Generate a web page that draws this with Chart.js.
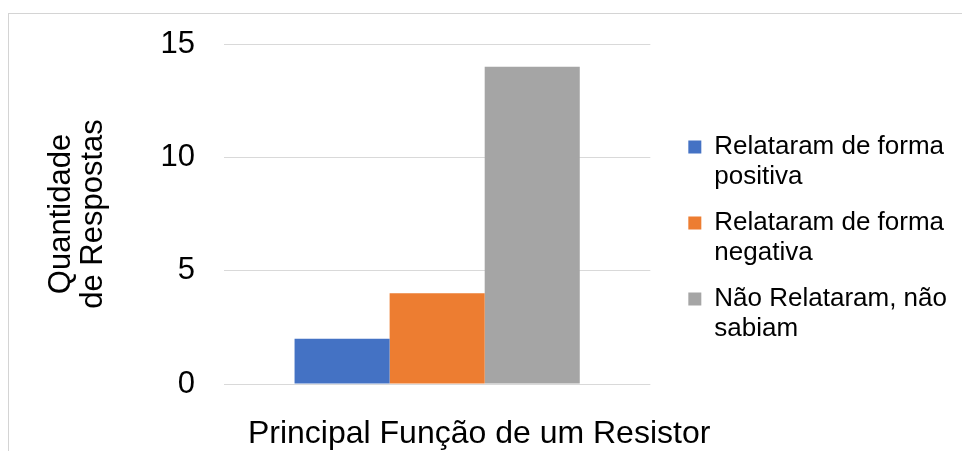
<!DOCTYPE html>
<html lang="pt">
<head>
<meta charset="utf-8">
<title>Principal Função de um Resistor</title>
<script src="https://cdn.jsdelivr.net/npm/chart.js@4"></script>
<style>
  html, body { margin: 0; padding: 0; background: #fff; overflow: hidden; }
  #wrap { position: relative; width: 962px; height: 451px; }
  #frame { position: absolute; left: 8px; top: 13px; width: 1000px; height: 500px; border: 1px solid #d4d4d4; box-sizing: border-box; }
  #grafico { position: absolute; left: 0; top: 0; }
</style>
</head>
<body>
<div id="wrap">
  <div id="frame"></div>
  <canvas id="grafico" width="962" height="451"></canvas>
</div>
<script>
// dados
const categorias = ['Principal Função de um Resistor'];
const series = [
  ['Relataram de forma', 'positiva'],
  ['Relataram de forma', 'negativa'],
  ['Não Relataram, não', 'sabiam'],
];
const positivos = [2];
const negativos = [4];
const naoSabiam = [14];
const cores = ['#4472C4', '#ED7D31', '#A5A5A5'];
const ticksY = [0, 5, 10, 15];

const FONTE = "'Liberation Sans', Arial, sans-serif";

const valores = [positivos, negativos, naoSabiam];

new Chart(document.getElementById('grafico'), {
  type: 'bar',
  data: {
    labels: categorias,
    datasets: series.map((nome, i) => ({
      label: nome,
      data: valores[i],
      backgroundColor: cores[i],
      borderWidth: 0,
      categoryPercentage: 0.669,
      barPercentage: 1,
    })),
  },
  options: {
    responsive: false,
    animation: false,
    layout: { padding: { top: 44, bottom: 0, left: 0, right: 5 } },
    plugins: {
      tooltip: { enabled: false },
      legend: {
        position: 'right',
        align: 'center',
        fullSize: false,
        maxWidth: 400,
        // título vazio só para baixar o bloco da legenda
        title: { display: true, text: ' ', padding: { top: 11, bottom: 11 }, font: { family: FONTE, size: 26, lineHeight: '30px' } },
        labels: {
          boxWidth: 13,
          boxHeight: 13,
          padding: 16,
          color: '#000',
          font: { family: FONTE, size: 26, lineHeight: '30px' },
          generateLabels: (chart) => chart.data.datasets.map((ds, i) => ({
            text: ds.label,
            fillStyle: ds.backgroundColor,
            strokeStyle: ds.backgroundColor,
            fontColor: '#000',
            lineWidth: 0,
            hidden: false,
            datasetIndex: i,
          })),
        },
      },
    },
    scales: {
      x: {
        grid: { display: false, drawTicks: false },
        border: { display: false },
        ticks: { color: '#000', padding: 31, labelOffset: 42, font: { family: FONTE, size: 32 } },
        afterFit: (s) => { s.height = 67; },
      },
      y: {
        min: 0,
        max: 15,
        afterBuildTicks: (s) => { s.ticks = ticksY.map(v => ({ value: v })); },
        grid: { color: '#d9d9d9', lineWidth: 1, drawTicks: false },
        border: { display: false },
        ticks: { color: '#000', padding: 29, font: { family: FONTE, size: 31 } },
        title: {
          display: true,
          text: ['Quantidade', 'de Respostas'],
          color: '#000',
          padding: { top: 45, bottom: 0 },
          font: { family: FONTE, size: 31, lineHeight: '32px' },
        },
        afterFit: (s) => { s.width = 224; s.paddingTop = 0; s.paddingBottom = 0; },
      },
      // eixo vazio só para afastar a legenda da área do gráfico
      folga: {
        type: 'linear',
        position: 'right',
        display: true,
        grid: { display: false },
        border: { display: false },
        ticks: { display: false },
        afterFit: (s) => { s.width = 22; },
      },
    },
  },
});
</script>
</body>
</html>
